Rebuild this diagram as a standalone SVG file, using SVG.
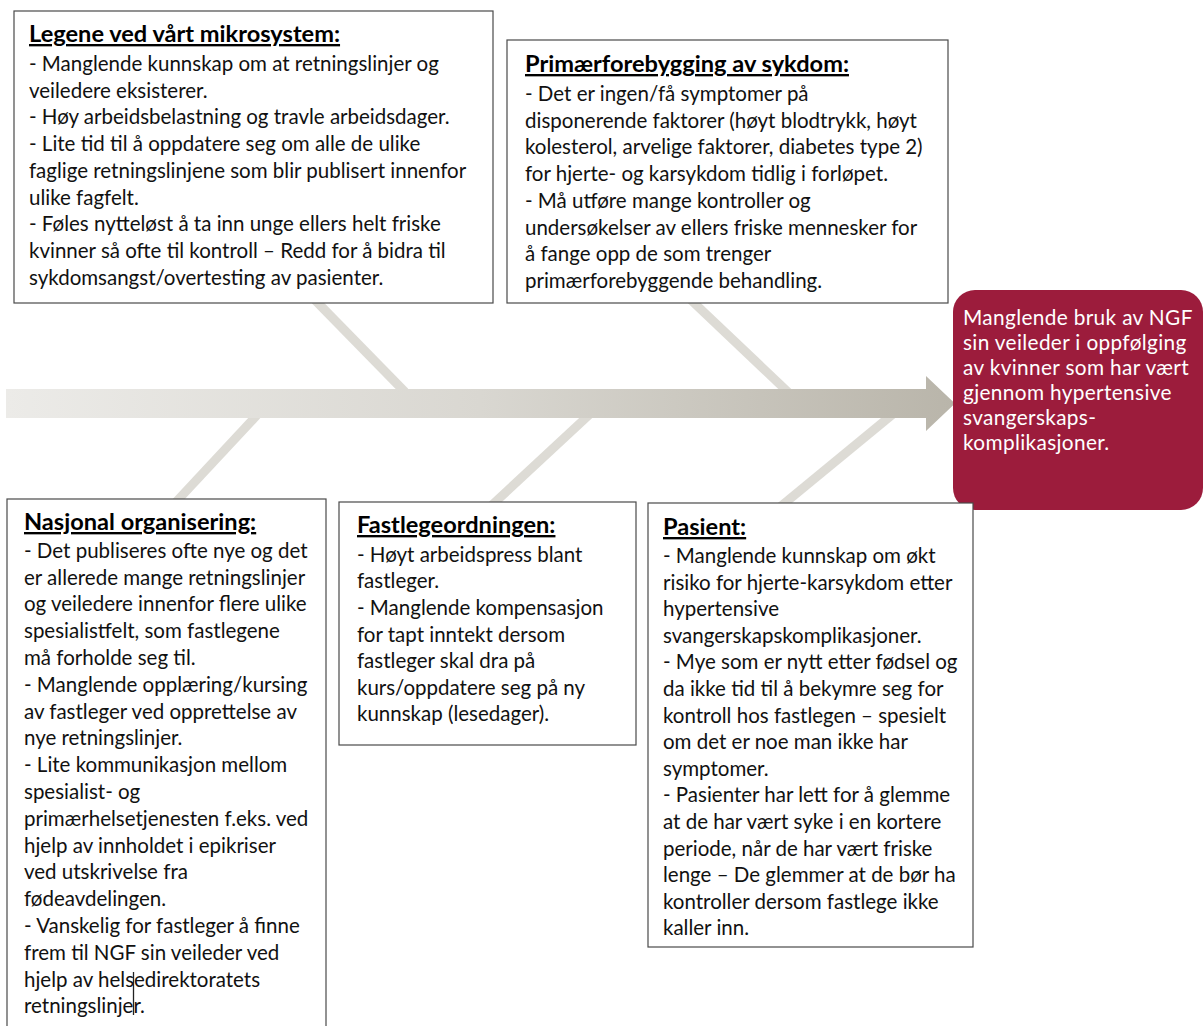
<svg xmlns="http://www.w3.org/2000/svg" width="1203" height="1026" viewBox="0 0 1203 1026">
  <defs>
    <linearGradient id="spineFill" x1="6" y1="0" x2="955" y2="0" gradientUnits="userSpaceOnUse">
      <stop offset="0" stop-color="#ecebe8"/>
      <stop offset="0.5" stop-color="#d9d7d1"/>
      <stop offset="1" stop-color="#b9b5aa"/>
    </linearGradient>
    <style>
      .box { fill: #ffffff; stroke: #4a4a4a; stroke-width: 1.2; }
      .bone { stroke: #dddbd5; stroke-width: 9; fill: none; }
      .body { font-family: Lato, "Open Sans", "Liberation Sans", sans-serif; font-size: 20.5px; fill: #111111; }
      .head { font-family: Lato, "Open Sans", "Liberation Sans", sans-serif; font-size: 23.6px; font-weight: bold; fill: #000000; text-decoration: underline; }
      .effect { font-family: Lato, "Open Sans", "Liberation Sans", sans-serif; font-size: 20.8px; letter-spacing: 0.35px; fill: #ffffff; }
    </style>
  </defs>

  <rect width="1203" height="1026" fill="#ffffff"/>

  <!-- spine and bones -->
  <g id="connectors">
    <line class="bone" x1="315" y1="300" x2="405" y2="392"/>
    <line class="bone" x1="691" y1="300" x2="789" y2="393"/>
    <line class="bone" x1="258" y1="414" x2="176" y2="502"/>
    <line class="bone" x1="590" y1="414" x2="492" y2="505"/>
    <line class="bone" x1="893" y1="414" x2="780" y2="507"/>
    <path id="spine" d="M6,389 H926 V376 L955,403.5 L926,431 V418 H6 Z" fill="url(#spineFill)"/>
  </g>

  <!-- cause: physicians in the microsystem -->
  <g id="legene">
    <rect class="box" x="14" y="11" width="479" height="292"/>
    <text class="head" x="29" y="42">Legene ved vårt mikrosystem:</text>
    <text class="body" x="29" y="71">- Manglende kunnskap om at retningslinjer og</text>
    <text class="body" x="29" y="97.7">veiledere eksisterer.</text>
    <text class="body" x="29" y="124.4">- Høy arbeidsbelastning og travle arbeidsdager.</text>
    <text class="body" x="29" y="151.1">- Lite tid til å oppdatere seg om alle de ulike</text>
    <text class="body" x="29" y="177.8">faglige retningslinjene som blir publisert innenfor</text>
    <text class="body" x="29" y="204.5">ulike fagfelt.</text>
    <text class="body" x="29" y="231.2">- Føles nytteløst å ta inn unge ellers helt friske</text>
    <text class="body" x="29" y="257.9">kvinner så ofte til kontroll – Redd for å bidra til</text>
    <text class="body" x="29" y="284.6">sykdomsangst/overtesting av pasienter.</text>
  </g>

  <!-- cause: primary prevention -->
  <g id="primaer">
    <rect class="box" x="507" y="40" width="441" height="263"/>
    <text class="head" x="525" y="72">Primærforebygging av sykdom:</text>
    <text class="body" x="525" y="101">- Det er ingen/få symptomer på</text>
    <text class="body" x="525" y="127.7">disponerende faktorer (høyt blodtrykk, høyt</text>
    <text class="body" x="525" y="154.4">kolesterol, arvelige faktorer, diabetes type 2)</text>
    <text class="body" x="525" y="181.1">for hjerte- og karsykdom tidlig i forløpet.</text>
    <text class="body" x="525" y="207.8">- Må utføre mange kontroller og</text>
    <text class="body" x="525" y="234.5">undersøkelser av ellers friske mennesker for</text>
    <text class="body" x="525" y="261.2">å fange opp de som trenger</text>
    <text class="body" x="525" y="287.9">primærforebyggende behandling.</text>
  </g>

  <!-- effect -->
  <g id="effekt">
    <rect x="953" y="290" width="250" height="220" rx="22" ry="22" fill="#9c1c3c"/>
    <text class="effect" x="963" y="325">Manglende bruk av NGF</text>
    <text class="effect" x="963" y="350">sin veileder i oppfølging</text>
    <text class="effect" x="963" y="375">av kvinner som har vært</text>
    <text class="effect" x="963" y="400">gjennom hypertensive</text>
    <text class="effect" x="963" y="425">svangerskaps-</text>
    <text class="effect" x="963" y="450">komplikasjoner.</text>
  </g>

  <!-- cause: national organisation -->
  <g id="nasjonal">
    <rect class="box" x="7" y="499" width="319" height="540"/>
    <text class="head" x="24" y="530">Nasjonal organisering:</text>
    <text class="body" x="24" y="557.7">- Det publiseres ofte nye og det</text>
    <text class="body" x="24" y="584.5">er allerede mange retningslinjer</text>
    <text class="body" x="24" y="611.3">og veiledere innenfor flere ulike</text>
    <text class="body" x="24" y="638.1">spesialistfelt, som fastlegene</text>
    <text class="body" x="24" y="664.9">må forholde seg til.</text>
    <text class="body" x="24" y="691.7">- Manglende opplæring/kursing</text>
    <text class="body" x="24" y="718.5">av fastleger ved opprettelse av</text>
    <text class="body" x="24" y="745.3">nye retningslinjer.</text>
    <text class="body" x="24" y="772.1">- Lite kommunikasjon mellom</text>
    <text class="body" x="24" y="798.9">spesialist- og</text>
    <text class="body" x="24" y="825.7">primærhelsetjenesten f.eks. ved</text>
    <text class="body" x="24" y="852.5">hjelp av innholdet i epikriser</text>
    <text class="body" x="24" y="879.3">ved utskrivelse fra</text>
    <text class="body" x="24" y="906.1">fødeavdelingen.</text>
    <text class="body" x="24" y="932.9">- Vanskelig for fastleger å finne</text>
    <text class="body" x="24" y="959.7">frem til NGF sin veileder ved</text>
    <text class="body" x="24" y="986.5">hjelp av helsedirektoratets</text>
    <text class="body" x="24" y="1013.3">retningslinjer.</text>
    <line x1="133.5" y1="972" x2="133.5" y2="1015" stroke="#222222" stroke-width="1.3"/>
  </g>

  <!-- cause: GP scheme -->
  <g id="fastlege">
    <rect class="box" x="339" y="502" width="297" height="243"/>
    <text class="head" x="357" y="533">Fastlegeordningen:</text>
    <text class="body" x="357" y="561.7">- Høyt arbeidspress blant</text>
    <text class="body" x="357" y="588.3">fastleger.</text>
    <text class="body" x="357" y="614.9">- Manglende kompensasjon</text>
    <text class="body" x="357" y="641.5">for tapt inntekt dersom</text>
    <text class="body" x="357" y="668.1">fastleger skal dra på</text>
    <text class="body" x="357" y="694.7">kurs/oppdatere seg på ny</text>
    <text class="body" x="357" y="721.3">kunnskap (lesedager).</text>
  </g>

  <!-- cause: patient -->
  <g id="pasient">
    <rect class="box" x="648" y="503" width="325" height="444"/>
    <text class="head" x="663" y="535">Pasient:</text>
    <text class="body" x="663" y="563">- Manglende kunnskap om økt</text>
    <text class="body" x="663" y="589.6">risiko for hjerte-karsykdom etter</text>
    <text class="body" x="663" y="616.2">hypertensive</text>
    <text class="body" x="663" y="642.8">svangerskapskomplikasjoner.</text>
    <text class="body" x="663" y="669.4">- Mye som er nytt etter fødsel og</text>
    <text class="body" x="663" y="696">da ikke tid til å bekymre seg for</text>
    <text class="body" x="663" y="722.6">kontroll hos fastlegen – spesielt</text>
    <text class="body" x="663" y="749.2">om det er noe man ikke har</text>
    <text class="body" x="663" y="775.8">symptomer.</text>
    <text class="body" x="663" y="802.4">- Pasienter har lett for å glemme</text>
    <text class="body" x="663" y="829">at de har vært syke i en kortere</text>
    <text class="body" x="663" y="855.6">periode, når de har vært friske</text>
    <text class="body" x="663" y="882.2">lenge – De glemmer at de bør ha</text>
    <text class="body" x="663" y="908.8">kontroller dersom fastlege ikke</text>
    <text class="body" x="663" y="935.4">kaller inn.</text>
  </g>
</svg>
